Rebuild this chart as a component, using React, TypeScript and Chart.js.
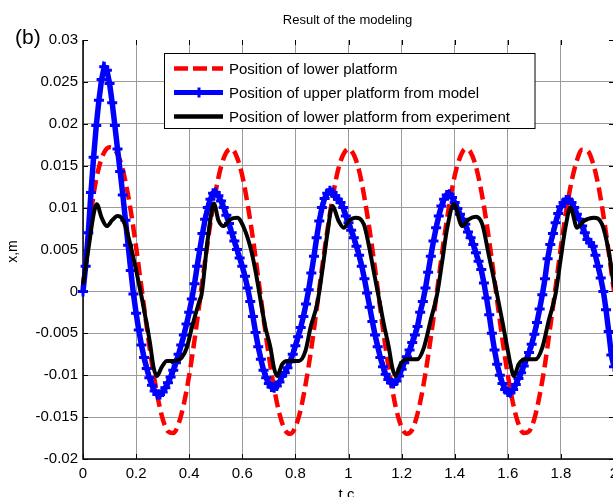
import React, { useEffect, useRef } from "react";
import { Chart, registerables } from "chart.js";

Chart.register(...registerables);

// ---------- text ----------
const TITLE = "Result of the modeling";
const PANEL = "(b)";
const X_LABEL = "t,c";
const Y_LABEL = "x,m";
const LEGEND_LABELS = [
  "Position of lower platform",
  "Position of upper platform from model",
  "Position of lower platform from experiment",
];

// ---------- ticks ----------
const X_TICKS = [0, 0.2, 0.4, 0.6, 0.8, 1, 1.2, 1.4, 1.6, 1.8, 2];
const Y_TICKS = [-0.02, -0.015, -0.01, -0.005, 0, 0.005, 0.01, 0.015, 0.02, 0.025, 0.03];

// ---------- data (values in mm, i.e. x 1e-3 m) ----------
// Position of lower platform, sampled every 0.02 s from t = 0
const RED_DT = 0.02;
const RED_MM = [
  0.5, 6.5, 11.6, 14.8, 16.6, 17.2, 16.9, 15.6, 13.1, 9.6,
  5.3, 0.5, -4.2, -8.7, -12.4, -15.2, -16.7, -16.9, -15.8, -13.4,
  -10.0, -5.8, -1.1, 3.7, 8.2, 12.0, 14.9, 16.6, 17.0, 16.0,
  13.8, 10.4, 6.3, 1.6, -3.2, -7.7, -11.6, -14.6, -16.5, -17.0,
  -16.2, -14.1, -10.8, -6.8, -2.1, 2.7, 7.2, 11.2, 14.4, 16.3,
  17.0, 16.3, 14.4, 11.2, 7.2, 2.7, -2.1, -6.8, -10.8, -14.1,
  -16.2, -17.0, -16.5, -14.6, -11.6, -7.7, -3.2, 1.6, 6.3, 10.4,
  13.8, 16.0, 17.0, 16.6, 14.9, 12.0, 8.2, 3.7, -1.1, -5.8,
  -10.0, -13.4, -15.8, -16.9, -16.7, -15.2, -12.4, -8.7, -4.2, 0.5,
  5.3, 9.6, 13.1, 15.6, 16.9, 16.8, 15.4, 12.8, 9.1, 4.7,
  0.0,
];

// Position of upper platform from model, sampled every 0.01 s from t = 0
const BLUE_DT = 0.01;
const BLUE_MM = [
  0, 3.0, 7.0, 11.8, 16.0, 19.8, 22.8, 25.3, 26.8, 26.4,
  24.8, 22.5, 19.8, 17.0, 14.3, 11.5, 8.5, 5.5, 2.5, -0.3,
  -2.6, -4.6, -6.4, -7.9, -9.2, -10.3, -11.2, -11.9, -12.3, -12.3,
  -12.0, -11.5, -10.9, -10.2, -9.4, -8.5, -7.5, -6.4, -5.2, -3.9,
  -2.5, -0.9, 0.9, 3.0, 5.0, 6.9, 8.6, 10.0, 11.0, 11.7,
  11.8, 11.4, 10.8, 10.0, 9.1, 8.1, 7.0, 6.0, 5.0, 4.0,
  3.0, 1.8, 0.4, -1.2, -3.0, -4.9, -6.6, -8.1, -9.4, -10.3,
  -11.0, -11.4, -11.5, -11.3, -10.8, -10.1, -9.7, -9.1, -8.4, -7.5,
  -6.5, -5.4, -4.3, -3.0, -1.5, 0.2, 2.2, 4.2, 6.4, 8.4,
  10.0, 11.1, 11.7, 12.0, 11.8, 11.4, 11.0, 10.6, 10.0, 9.0,
  8.2, 7.3, 6.4, 5.4, 4.3, 3.0, 1.5, -0.2, -1.9, -3.6,
  -5.2, -6.6, -7.9, -9.0, -9.9, -10.5, -10.9, -11.0, -10.7, -10.1,
  -9.3, -8.5, -7.8, -7.0, -6.1, -5.2, -4.2, -2.5, -1.2, 0.4,
  2.3, 4.2, 6.0, 7.6, 9.0, 10.2, 11.0, 11.5, 11.6, 11.2,
  10.6, 9.9, 9.2, 8.6, 8.0, 7.1, 6.4, 5.6, 4.6, 3.6,
  2.6, 1.0, -0.8, -2.8, -5.0, -7.0, -8.7, -10.0, -11.0, -11.7,
  -12.0, -12.1, -11.7, -11.1, -10.4, -9.7, -8.9, -8.1, -7.3, -6.3,
  -5.1, -3.7, -2.1, -0.4, 1.5, 3.9, 5.6, 6.9, 8.2, 9.3,
  10.1, 10.6, 10.9, 10.9, 10.6, 10.0, 9.2, 8.6, 7.8, 7.0,
  6.2, 5.8, 5.4, 4.3, 3.0, 1.6, 0.0, -2.2, -4.8, -7.6,
  -9.0,
];

// Position of lower platform from experiment (time in s, value in mm)
const BLACK_T = [
  0, 0.021, 0.04, 0.052, 0.07, 0.09, 0.11, 0.13, 0.145, 0.16,
  0.184, 0.203, 0.221, 0.24, 0.253, 0.266, 0.278, 0.297, 0.316, 0.347,
  0.372, 0.391, 0.41, 0.435, 0.447, 0.466, 0.479, 0.493, 0.51, 0.53,
  0.555, 0.581, 0.606, 0.631, 0.65, 0.669, 0.687, 0.706, 0.719, 0.731,
  0.75, 0.769, 0.813, 0.838, 0.857, 0.882, 0.901, 0.92, 0.939, 0.963,
  0.982, 1.005, 1.026, 1.058, 1.076, 1.095, 1.114, 1.133, 1.152, 1.165,
  1.177, 1.196, 1.221, 1.259, 1.284, 1.309, 1.334, 1.353, 1.372, 1.397,
  1.428, 1.453, 1.48, 1.504, 1.528, 1.554, 1.579, 1.598, 1.61, 1.623,
  1.641, 1.667, 1.704, 1.73, 1.754, 1.78, 1.798, 1.817, 1.836, 1.861,
  1.886, 1.924, 1.955, 1.98, 1.993, 2.0,
];
const BLACK_MM = [
  0.8, 5.2, 9.2, 10.4, 8.8, 7.8, 8.5, 9.0, 8.8, 7.8,
  4.8, 2.1, -0.7, -3.9, -6.3, -9.1, -10.1, -9.0, -8.3, -8.3,
  -7.9, -6.7, -4.3, -1.5, -0.3, 5.2, 8.4, 10.5, 8.5, 7.8,
  8.6, 8.8, 7.6, 5.2, 2.4, -1.1, -4.3, -6.7, -9.1, -10.1,
  -8.7, -8.3, -8.3, -7.1, -4.3, -1.5, 2.4, 6.8, 10.2, 8.4,
  7.6, 8.5, 8.8, 8.0, 5.6, 2.4, -0.7, -3.9, -6.7, -9.1,
  -10.1, -8.7, -8.1, -8.1, -6.7, -3.5, -0.3, 3.6, 7.6, 10.4,
  7.8, 8.6, 8.9, 8.0, 4.4, 0.5, -3.5, -6.7, -8.7, -10.1,
  -8.7, -8.1, -8.1, -6.7, -3.5, -0.3, 3.6, 7.6, 10.0, 7.6,
  8.4, 8.8, 8.0, 4.8, 2.1, 0.5,
];

// ---------- styling ----------
const FONT = "'Liberation Sans', Arial, Helvetica, sans-serif";
const RED = "#ff0000";
const BLUE = "#0000ff";
const BLACK = "#000000";
const GRID = "#9c9c9c";

const fmt = (v: number) => String(Math.round(v * 1000) / 1000);

const decorPlugin = {
  id: "decor",
  beforeDatasetsDraw(chart: any) {
    const { ctx, chartArea } = chart;
    const { left, right, top, bottom } = chartArea;
    const xs = chart.scales.x;
    const ys = chart.scales.y;
    ctx.save();
    ctx.strokeStyle = "#000";
    ctx.lineWidth = 1.5;
    ctx.beginPath();
    ctx.moveTo(left, top);
    ctx.lineTo(left, bottom);
    ctx.lineTo(right, bottom);
    ctx.lineTo(right, top);
    ctx.stroke();
    ctx.lineWidth = 1;
    const tl = 5;
    ctx.beginPath();
    for (const v of X_TICKS) {
      const px = Math.round(xs.getPixelForValue(v)) + 0.5;
      ctx.moveTo(px, bottom);
      ctx.lineTo(px, bottom - tl);
      ctx.moveTo(px, top);
      ctx.lineTo(px, top + tl);
    }
    for (const v of Y_TICKS) {
      const py = Math.round(ys.getPixelForValue(v)) + 0.5;
      ctx.moveTo(left, py);
      ctx.lineTo(left + tl, py);
      ctx.moveTo(right, py);
      ctx.lineTo(right - tl, py);
    }
    ctx.stroke();
    ctx.restore();
  },
  afterDraw(chart: any) {
    const { ctx, chartArea } = chart;
    const { left, right, top, bottom } = chartArea;
    ctx.save();
    ctx.fillStyle = "#000";
    // title
    ctx.font = `13px ${FONT}`;
    ctx.textAlign = "center";
    ctx.textBaseline = "alphabetic";
    ctx.fillText(TITLE, (left + right) / 2 - 1, 24);
    // panel label
    ctx.font = `21px ${FONT}`;
    ctx.textAlign = "left";
    ctx.fillText(PANEL, 15, 44);
    // x label
    ctx.font = `15px ${FONT}`;
    ctx.textAlign = "center";
    ctx.fillText(X_LABEL, (left + right) / 2 - 2, 499);
    // y label
    ctx.save();
    ctx.translate(17, (top + bottom) / 2 + 2);
    ctx.rotate(-Math.PI / 2);
    ctx.font = `14px ${FONT}`;
    ctx.textAlign = "center";
    ctx.fillText(Y_LABEL, 0, 0);
    ctx.restore();

    // legend
    const bx = 164.5, by = 53.5, bw = 370.5, bh = 75;
    ctx.fillStyle = "#fff";
    ctx.fillRect(bx, by, bw, bh);
    ctx.strokeStyle = "#000";
    ctx.lineWidth = 1;
    ctx.strokeRect(bx, by, bw, bh);
    const rows = [68.5, 92.5, 116.5];
    const x0 = 174, x1 = 223;
    // red dashed
    ctx.save();
    ctx.strokeStyle = RED;
    ctx.lineWidth = 4.5;
    ctx.setLineDash([14, 5]);
    ctx.beginPath();
    ctx.moveTo(x0, rows[0]);
    ctx.lineTo(x1, rows[0]);
    ctx.stroke();
    ctx.restore();
    // blue with marker
    ctx.strokeStyle = BLUE;
    ctx.lineWidth = 5;
    ctx.beginPath();
    ctx.moveTo(x0, rows[1]);
    ctx.lineTo(x1, rows[1]);
    ctx.stroke();
    ctx.lineWidth = 3;
    ctx.beginPath();
    ctx.moveTo(199, rows[1] - 5);
    ctx.lineTo(199, rows[1] + 5);
    ctx.moveTo(194, rows[1]);
    ctx.lineTo(204, rows[1]);
    ctx.stroke();
    // black
    ctx.strokeStyle = BLACK;
    ctx.lineWidth = 4.5;
    ctx.beginPath();
    ctx.moveTo(x0, rows[2]);
    ctx.lineTo(x1, rows[2]);
    ctx.stroke();
    // labels
    ctx.fillStyle = "#000";
    ctx.font = `15px ${FONT}`;
    ctx.textAlign = "left";
    ctx.textBaseline = "alphabetic";
    LEGEND_LABELS.forEach((t, i) => ctx.fillText(t, 229, rows[i] + 5));
    ctx.restore();
  },
};

export default function App() {
  const ref = useRef<HTMLCanvasElement | null>(null);

  useEffect(() => {
    if (!ref.current) return;
    const red = RED_MM.map((v, i) => ({ x: i * RED_DT, y: v / 1000 }));
    const blue = BLUE_MM.map((v, i) => ({ x: i * BLUE_DT, y: v / 1000 }));
    const black = BLACK_MM.map((v, i) => ({ x: BLACK_T[i], y: v / 1000 }));

    const tickFont = { family: FONT, size: 15 };
    const chart = new Chart(ref.current, {
      type: "line",
      data: {
        datasets: [
          {
            label: LEGEND_LABELS[0],
            data: red,
            borderColor: RED,
            borderWidth: 4.5,
            borderDash: [13, 6],
            pointRadius: 0,
            cubicInterpolationMode: "monotone",
            fill: false,
            order: 3,
            clip: false,
          },
          {
            label: LEGEND_LABELS[1],
            data: blue,
            borderColor: BLUE,
            borderWidth: 5.5,
            pointStyle: "cross",
            pointRadius: 5,
            pointBorderWidth: 3,
            pointBorderColor: BLUE,
            pointBackgroundColor: BLUE,
            tension: 0,
            fill: false,
            order: 2,
            clip: false,
          },
          {
            label: LEGEND_LABELS[2],
            data: black,
            borderColor: BLACK,
            borderWidth: 4,
            borderJoinStyle: "round",
            pointRadius: 0,
            cubicInterpolationMode: "monotone",
            fill: false,
            order: 1,
            clip: false,
          },
        ] as any,
      },
      options: {
        responsive: false,
        animation: false,
        devicePixelRatio: 1,
        events: [],
        layout: { padding: { top: 40, right: 16, left: 0, bottom: 0 } },
        plugins: {
          legend: { display: false },
          tooltip: { enabled: false },
          title: { display: false },
        },
        scales: {
          x: {
            type: "linear",
            min: 0,
            max: 2,
            afterBuildTicks: (s: any) => {
              s.ticks = X_TICKS.map((v) => ({ value: v }));
            },
            afterFit: (s: any) => {
              s.height = 38;
            },
            ticks: {
              callback: (v: any) => fmt(Number(v)),
              font: tickFont,
              color: "#000",
              padding: 6,
              autoSkip: false,
              maxRotation: 0,
            },
            grid: { color: GRID, lineWidth: 1, drawTicks: false },
            border: { display: false },
          },
          y: {
            type: "linear",
            min: -0.02,
            max: 0.03,
            afterBuildTicks: (s: any) => {
              s.ticks = Y_TICKS.map((v) => ({ value: v }));
            },
            afterFit: (s: any) => {
              s.width = 83;
            },
            ticks: {
              callback: (v: any) => fmt(Number(v)),
              font: tickFont,
              color: "#000",
              padding: 5,
              autoSkip: false,
            },
            grid: {
              color: (c: any) =>
                c.tick && Math.abs(c.tick.value - 0.03) < 1e-9 ? "rgba(0,0,0,0)" : GRID,
              lineWidth: 1,
              drawTicks: false,
            },
            border: { display: false },
          },
        },
      } as any,
      plugins: [decorPlugin],
    });
    return () => chart.destroy();
  }, []);

  return (
    <div
      style={{
        position: "fixed",
        left: 0,
        top: 0,
        width: 613,
        height: 497,
        overflow: "hidden",
        background: "#fff",
      }}
    >
      <canvas ref={ref} width={630} height={497} style={{ display: "block", width: 630, height: 497 }} />
    </div>
  );
}
